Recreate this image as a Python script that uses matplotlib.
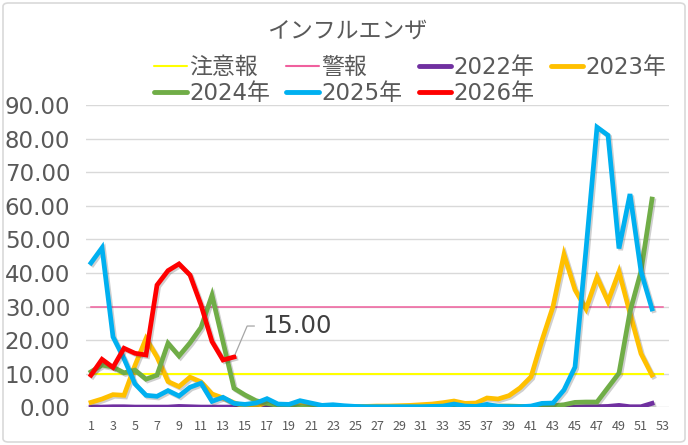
import matplotlib
matplotlib.use("Agg")
import matplotlib.pyplot as plt
import matplotlib.patheffects as pe
from matplotlib.patches import FancyBboxPatch
from matplotlib.lines import Line2D

# ---- data ----
title = "インフルエンザ"
weeks_ref = list(range(1, 54))
weeks = list(range(1, 53))
warn_level = 10.0     # 注意報
alarm_level = 30.0    # 警報

y2022 = [0.1, 0.1, 0.2, 0.2, 0.1, 0.1, 0.1, 0.1, 0.3, 0.2, 0.1, 0.1, 0.1,
         0.1, 0.1, 0.1, 0.1, 0.1, 0.1, 0.1, 0.1, 0.1, 0.1, 0.1, 0.1, 0.1,
         0.1, 0.1, 0.1, 0.1, 0.1, 0.1, 0.1, 0.1, 0.1, 0.1, 0.1, 0.1, 0.1,
         0.1, 0.1, 0.1, 0.1, 0.1, 0.1, 0.2, 0.2, 0.3, 0.6, 0.2, 0.2, 1.2]
y2023 = [1.5, 2.5, 3.8, 3.6, 12.5, 20.5, 15.0, 7.7, 6.2, 9.0, 7.6, 4.0, 2.8,
         1.4, 0.3, 0.4, 1.5, 0.7, 0.4, 1.5, 0.5, 0.3, 0.3, 0.3, 0.3, 0.3,
         0.4, 0.4, 0.5, 0.6, 0.8, 1.0, 1.4, 1.9, 1.2, 1.3, 2.8, 2.5, 3.5,
         5.8, 9.1, 20.0, 30.0, 45.5, 35.0, 29.3, 38.8, 31.5, 40.4, 28.0, 16.0, 9.6]
y2024 = [10.6, 12.6, 12.0, 10.3, 11.1, 8.4, 9.6, 19.1, 15.3, 19.2, 23.8, 33.4, 19.5,
         5.7, 3.7, 2.0, 1.2, 0.6, 0.3, 0.2, 0.1, 0.1, 0.1, 0.1, 0.1, 0.1,
         0.1, 0.1, 0.1, 0.1, 0.1, 0.1, 0.1, 0.1, 0.2, 0.2, 0.4, 0.4, 0.4,
         0.3, 0.2, 0.2, 0.5, 0.8, 1.5, 1.6, 1.6, 5.9, 10.2, 28.5, 40.5, 62.0]
y2025 = [43.0, 47.5, 21.0, 14.5, 7.0, 3.6, 3.3, 5.0, 3.4, 6.0, 7.2, 1.8, 3.0,
         1.2, 0.9, 1.3, 2.6, 1.0, 0.9, 2.0, 1.3, 0.6, 0.8, 0.5, 0.3, 0.2,
         0.2, 0.2, 0.2, 0.2, 0.2, 0.3, 0.4, 1.0, 0.4, 0.3, 0.9, 0.3, 0.2,
         0.2, 0.4, 1.2, 1.3, 5.2, 12.0, 47.0, 83.4, 81.0, 47.3, 63.5, 40.5, 29.3]
y2026 = [9.6, 14.3, 11.9, 17.6, 16.1, 15.6, 36.4, 40.7, 42.7, 39.4, 30.5, 19.6, 14.1, 15.0]

yticks = [0, 10, 20, 30, 40, 50, 60, 70, 80, 90]
xticks = list(range(1, 54, 2))

# ---- figure ----
W, H = 688, 445
fig = plt.figure(figsize=(W / 100, H / 100), dpi=100)
fig.patch.set_facecolor("white")
border = FancyBboxPatch((3 / W, 3 / H), 1 - 6 / W, 1 - 6 / H,
                        boxstyle="round,pad=0,rounding_size=0.008",
                        transform=fig.transFigure, facecolor="none",
                        edgecolor="#d9d9d9", linewidth=1.2)
fig.patches.append(border)

left, right = 85.5, 668.5
bottom, top = 407.4, 105.0
ax = fig.add_axes([left / W, 1 - bottom / H, (right - left) / W, (bottom - top) / H])
ax.set_xlim(0.5, 53.5)
ax.set_ylim(0, 90)
ax.set_facecolor("none")

for s in ax.spines.values():
    s.set_visible(False)
ax.set_yticks(yticks)
ax.set_yticklabels([f"{v:.2f}" for v in yticks])
ax.set_xticks(xticks)
ax.set_xticklabels([str(v) for v in xticks])
ax.tick_params(axis="y", length=0, pad=11, labelsize=16.5, labelcolor="#595959")
ax.tick_params(axis="x", length=0, pad=9, labelsize=9, labelcolor="#595959")
for lab in ax.get_xticklabels():
    lab.set_fontfamily(["Noto Sans CJK JP", "DejaVu Sans"])
ax.grid(axis="y", color="#d9d9d9", linewidth=1.0)
ax.set_axisbelow(True)

shadow = [pe.SimpleLineShadow(offset=(1.2, -1.2), alpha=0.25, shadow_color="#404040"),
          pe.Normal()]

lw = 3.4
ax.plot(weeks_ref, [warn_level] * len(weeks_ref), color="#FFFF00", lw=1.5, label="注意報")
ax.plot(weeks_ref, [alarm_level] * len(weeks_ref), color="#F0609E", lw=1.1, label="警報")
ax.plot(weeks, y2022, color="#7030A0", lw=lw, label="2022年", path_effects=shadow, solid_joinstyle="miter")
ax.plot(weeks, y2023, color="#FFC000", lw=lw, label="2023年", path_effects=shadow, solid_joinstyle="miter")
ax.plot(weeks, y2024, color="#70AD47", lw=lw, label="2024年", path_effects=shadow, solid_joinstyle="miter")
ax.plot(weeks, y2025, color="#00B0F0", lw=lw, label="2025年", path_effects=shadow, solid_joinstyle="miter")
ax.plot(list(range(1, len(y2026) + 1)), y2026, color="#FF0000", lw=lw, label="2026年",
        path_effects=shadow, solid_joinstyle="miter")

# data label on the last 2026 point
last_w = len(y2026)
ax.annotate(f"{y2026[-1]:.2f}", xy=(last_w, y2026[-1]), xytext=(20.2, 22.3),
            textcoords="offset points", ha="left", va="center",
            fontsize=17.5, color="#404040", family="DejaVu Sans",
            arrowprops=dict(arrowstyle="-", color="#a6a6a6", lw=0.9,
                            connectionstyle="angle,angleA=0,angleB=67,rad=0",
                            relpos=(0, 0.5), shrinkA=3.5, shrinkB=2))

# title
fig.text(347.5 / W, 1 - 31 / H, title, ha="center", va="center", fontsize=16.5,
         color="#595959", family=["Noto Sans CJK JP", "DejaVu Sans"])

# legend (row-major order emulated for matplotlib's column-major fill)
handles, labels = ax.get_legend_handles_labels()
order = [0, 4, 1, 5, 2, 6, 3]
leg_handles = [Line2D([], [], color=h.get_color(), lw=(1.5 if i < 2 else 3.5),
                      solid_capstyle="round") for i, h in enumerate(handles)]
leg = fig.legend([leg_handles[i] for i in order], [labels[i] for i in order],
                 ncol=4, loc="center left", bbox_to_anchor=(143 / W, 1 - 80.5 / H),
                 frameon=False, handlelength=1.4, handletextpad=0.13,
                 columnspacing=0.7, labelspacing=0.15, borderpad=0,
                 prop={"family": ["DejaVu Sans", "Noto Sans CJK JP"], "size": 16.5})
for t in leg.get_texts():
    t.set_color("#595959")

fig.savefig("out.png", dpi=100, facecolor="white")
